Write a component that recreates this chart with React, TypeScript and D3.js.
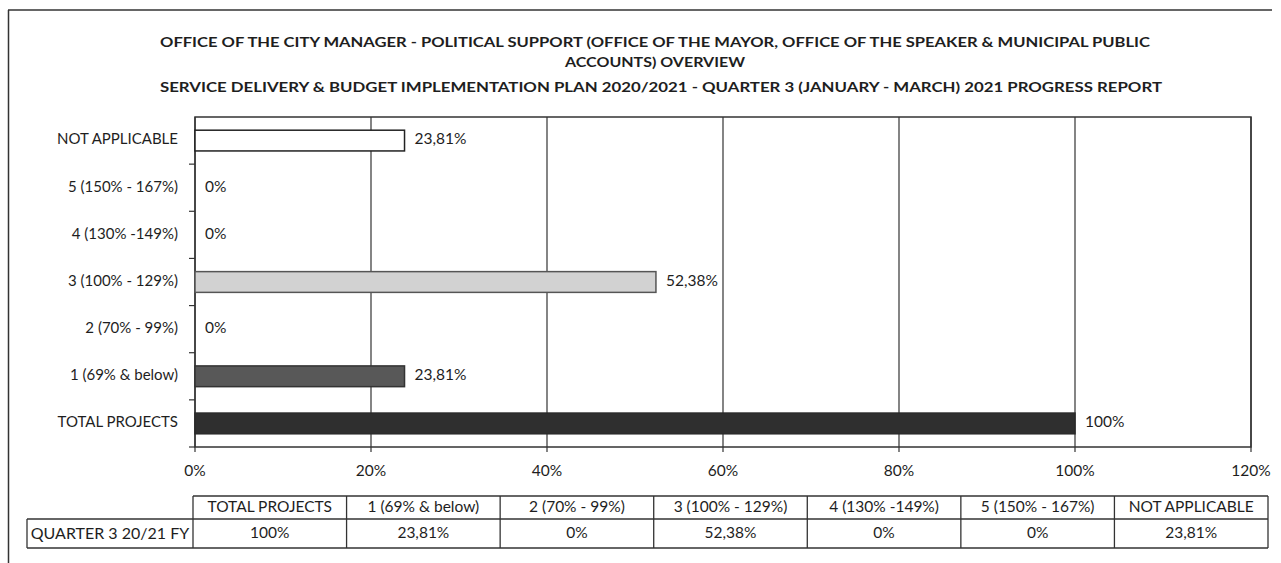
import React from "react";
import * as d3 from "d3";

const categories = [
  "TOTAL PROJECTS",
  "1 (69% & below)",
  "2 (70% - 99%)",
  "3 (100% - 129%)",
  "4 (130% -149%)",
  "5 (150% - 167%)",
  "NOT APPLICABLE",
];
const values = [100, 23.81, 0, 52.38, 0, 0, 23.81];
const valueLabels = ["100%", "23,81%", "0%", "52,38%", "0%", "0%", "23,81%"];
const barFills = ["#2f2f2f", "#585858", "#ffffff", "#d2d2d2", "#ffffff", "#ffffff", "#ffffff"];
const barStrokes = ["#2a2a2a", "#333333", "#222222", "#555555", "#222222", "#222222", "#222222"];
const xTicks = [0, 20, 40, 60, 80, 100, 120];
const rowLabel = "QUARTER 3 20/21 FY";
const titleLines = [
  "OFFICE OF THE CITY MANAGER - POLITICAL SUPPORT (OFFICE OF THE MAYOR, OFFICE OF THE SPEAKER & MUNICIPAL PUBLIC",
  "ACCOUNTS) OVERVIEW",
  "SERVICE DELIVERY & BUDGET IMPLEMENTATION PLAN 2020/2021 - QUARTER 3 (JANUARY - MARCH) 2021 PROGRESS REPORT",
];

const W = 1281;
const H = 563;
const FONT = "Lato, 'Open Sans', sans-serif";
const INK = "#1e1e1e";
const LINE = "#333333";

export default function App() {
  const plot = { left: 195, right: 1251, top: 117, bottom: 447 };
  const x = d3.scaleLinear().domain([0, 120]).range([plot.left, plot.right]);
  const yOrder = [...categories].reverse();
  const y = d3.scaleBand().domain(yOrder).range([plot.top, plot.bottom]).padding(0);
  const barH = y.bandwidth() * 0.44;

  const tbl = { left: 193, right: 1268, top: 496, mid: 519, bottom: 548, labelLeft: 27 };
  const col = d3.scaleBand().domain(categories).range([tbl.left, tbl.right]).padding(0);

  const titleWidths = [990, 180, 1002];
  const titleX = [655, 655, 661];
  const titleY = [43, 63, 88];

  return (
    <svg width={W} height={H} style={{ position: "absolute", left: 0, top: 0, background: "#fff" }} fontFamily={FONT}>
      <rect x={0} y={0} width={W} height={H} fill="#fff" />
      {/* outer frame */}
      <line x1={8} x2={1272} y1={10} y2={10} stroke={LINE} strokeWidth={1.5} />
      <line x1={8.5} x2={8.5} y1={10} y2={H} stroke={LINE} strokeWidth={1.5} />

      {/* title */}
      {titleLines.map((t, i) => (
        <text
          key={i}
          x={titleX[i]}
          y={titleY[i]}
          textAnchor="middle"
          dominantBaseline="middle"
          fontWeight="bold"
          fontSize={14}
          fill={INK}
          textLength={titleWidths[i]}
          lengthAdjust="spacingAndGlyphs"
        >
          {t}
        </text>
      ))}

      {/* gridlines */}
      {xTicks.map((t) => (
        <line key={"g" + t} x1={x(t)} x2={x(t)} y1={plot.top} y2={plot.bottom + 5} stroke={LINE} strokeWidth={1.2} />
      ))}
      {/* plot frame */}
      <rect x={plot.left} y={plot.top} width={plot.right - plot.left} height={plot.bottom - plot.top} fill="none" stroke={LINE} strokeWidth={1.5} />
      {/* y ticks at band boundaries */}
      {yOrder.map((c, i) => (
        <line key={"yt" + i} x1={plot.left - 6} x2={plot.left} y1={(y(c) as number) + y.bandwidth()} y2={(y(c) as number) + y.bandwidth()} stroke={LINE} strokeWidth={1.2} />
      ))}

      {/* bars */}
      {categories.map((c, i) => {
        const cy = (y(c) as number) + y.bandwidth() / 2;
        return values[i] > 0 ? (
          <rect
            key={"b" + i}
            x={x(0)}
            y={cy - barH / 2}
            width={x(values[i]) - x(0)}
            height={barH}
            fill={barFills[i]}
            stroke={barStrokes[i]}
            strokeWidth={1.5}
          />
        ) : null;
      })}
      {/* data labels */}
      {categories.map((c, i) => (
        <text key={"l" + i} x={x(values[i]) + 10} y={(y(c) as number) + y.bandwidth() / 2} dominantBaseline="middle" fontSize={15.5} fill={INK}>
          {valueLabels[i]}
        </text>
      ))}
      {/* y labels */}
      {categories.map((c, i) => (
        <text key={"yl" + i} x={178} y={(y(c) as number) + y.bandwidth() / 2} textAnchor="end" dominantBaseline="middle" fontSize={15} fill={INK}>
          {c}
        </text>
      ))}
      {/* x labels */}
      {xTicks.map((t) => (
        <text key={"xl" + t} x={x(t)} y={472} textAnchor="middle" dominantBaseline="middle" fontSize={15.5} fill={INK}>
          {t + "%"}
        </text>
      ))}

      {/* data table */}
      <line x1={tbl.left} x2={tbl.right} y1={tbl.top} y2={tbl.top} stroke={LINE} strokeWidth={1.3} />
      <line x1={tbl.labelLeft} x2={tbl.right} y1={tbl.mid} y2={tbl.mid} stroke={LINE} strokeWidth={1.3} />
      <line x1={tbl.labelLeft} x2={tbl.right} y1={tbl.bottom} y2={tbl.bottom} stroke={LINE} strokeWidth={1.3} />
      <line x1={tbl.labelLeft} x2={tbl.labelLeft} y1={tbl.mid} y2={tbl.bottom} stroke={LINE} strokeWidth={1.3} />
      {categories.map((c, i) => (
        <line key={"cv" + i} x1={col(c) as number} x2={col(c) as number} y1={tbl.top} y2={tbl.bottom} stroke={LINE} strokeWidth={1.3} />
      ))}
      <line x1={tbl.right} x2={tbl.right} y1={tbl.top} y2={tbl.bottom} stroke={LINE} strokeWidth={1.3} />
      {categories.map((c, i) => (
        <g key={"tc" + i}>
          <text x={(col(c) as number) + col.bandwidth() / 2} y={(tbl.top + tbl.mid) / 2 + 1} textAnchor="middle" dominantBaseline="middle" fontSize={15.5} fill={INK}>
            {c}
          </text>
          <text x={(col(c) as number) + col.bandwidth() / 2} y={(tbl.mid + tbl.bottom) / 2 + 1} textAnchor="middle" dominantBaseline="middle" fontSize={15.5} fill={INK}>
            {valueLabels[i]}
          </text>
        </g>
      ))}
      <text x={(tbl.labelLeft + tbl.left) / 2} y={(tbl.mid + tbl.bottom) / 2 + 1} textAnchor="middle" dominantBaseline="middle" fontSize={16} fill={INK}>
        {rowLabel}
      </text>
    </svg>
  );
}
